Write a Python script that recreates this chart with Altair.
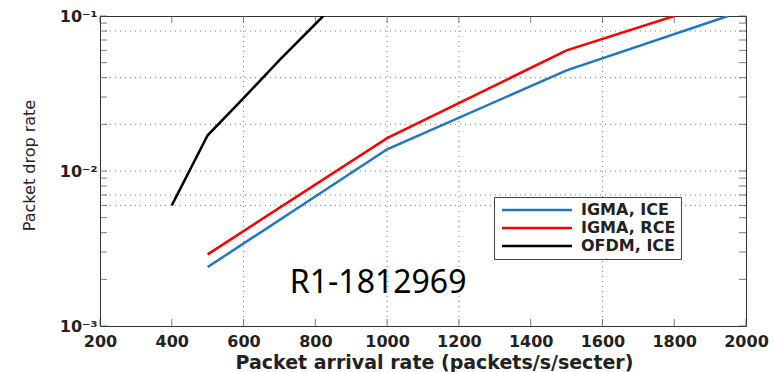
import altair as alt
import pandas as pd

# Series data
blue_x = [500, 1000, 1500, 1950]
blue_y = [0.0024, 0.0138, 0.0446, 0.1]
red_x = [500, 1000, 1500, 1800]
red_y = [0.0029, 0.0163, 0.060, 0.1]
black_x = [400, 500, 600, 700, 822]
black_y = [0.0060, 0.017, 0.0295, 0.052, 0.1]
series_names = ["IGMA, ICE", "IGMA, RCE", "OFDM, ICE"]
series_colors = ["#1f77c8", "#ff0000", "#000000"]

x_ticks = [200, 400, 600, 800, 1000, 1200, 1400, 1600, 1800, 2000]
y_ticks = [0.001, 0.01, 0.1]
y_minor = [0.001, 0.002, 0.003, 0.004, 0.005, 0.006, 0.007, 0.008, 0.009,
           0.01, 0.02, 0.03, 0.04, 0.05, 0.06, 0.07, 0.08, 0.09, 0.1]
grid_x = [600, 1000, 1200, 1600]
grid_y = [0.08, 0.04, 0.02, 0.01, 0.007, 0.006]

note_text = ["R1-1812969"]
note_x = [975]
note_y = [0.00163]

rows = []
for name, xs, ys in zip(series_names, [blue_x, red_x, black_x], [blue_y, red_y, black_y]):
    for i, (a, b) in enumerate(zip(xs, ys)):
        rows.append({"series": name, "x": a, "y": b, "order": i})
df = pd.DataFrame(rows)

FONT = "DejaVu Sans"

xscale = alt.Scale(domain=[x_ticks[0], x_ticks[-1]], nice=False, zero=False)
yscale = alt.Scale(type="log", domain=[y_ticks[0], y_ticks[-1]], nice=False)

xaxis = alt.Axis(values=x_ticks, format="d", labelOverlap=False, labelFlush=False,
                 grid=False, ticks=False, domain=False, labelFont=FONT, labelFontSize=16,
                 labelFontWeight="bold", labelColor="#222", labelPadding=7,
                 title="Packet arrival rate (packets/s/secter)", titleFont=FONT,
                 titleFontSize=19, titleFontWeight="bold", titleColor="#222",
                 titleBaseline="alphabetic", titleY=42, titleX=334, titleAlign="center")
yaxis = alt.Axis(values=y_ticks, grid=False, ticks=False, domain=False, labelFlush=False,
                 labelFont=FONT, labelFontSize=16, labelFontWeight="bold",
                 labelColor="#222", labelPadding=3,
                 labelExpr="datum.value == 0.1 ? '10⁻¹' : (datum.value == 0.01 ? '10⁻²' : '10⁻³')",
                 title="Packet drop rate", titleFont=FONT, titleFontSize=16,
                 titleFontWeight="normal", titleColor="#222", titleAngle=270,
                 titleBaseline="alphabetic", titleAlign="center", titleX=-66, titleY=149)

X = lambda f: alt.X(f, scale=xscale, axis=xaxis)
Y = lambda f: alt.Y(f, scale=yscale, axis=yaxis)

gx = alt.Chart(pd.DataFrame({"gx": grid_x})).mark_rule(
    color="#777", strokeDash=[1, 4], strokeWidth=1
).encode(x=X("gx:Q"))

gy = alt.Chart(pd.DataFrame({"gy": grid_y})).mark_rule(
    color="#777", strokeDash=[1, 4], strokeWidth=1
).encode(y=Y("gy:Q"))

# Matlab-style inward ticks on all four sides
xt = pd.DataFrame({"tx": x_ticks, "bot": y_ticks[0], "top": y_ticks[-1]})
yt = pd.DataFrame({"ty": y_minor, "left": x_ticks[0], "right": x_ticks[-1]})
tick_style = dict(color="#444", thickness=1, size=7)
tb = alt.Chart(xt).mark_tick(orient="vertical", yOffset=-3.5, **tick_style).encode(x=X("tx:Q"), y=Y("bot:Q"))
tt = alt.Chart(xt).mark_tick(orient="vertical", yOffset=3.5, **tick_style).encode(x=X("tx:Q"), y=Y("top:Q"))
tl = alt.Chart(yt).mark_tick(orient="horizontal", xOffset=3.5, **tick_style).encode(x=X("left:Q"), y=Y("ty:Q"))
tr = alt.Chart(yt).mark_tick(orient="horizontal", xOffset=-3.5, **tick_style).encode(x=X("right:Q"), y=Y("ty:Q"))

lines = alt.Chart(df).mark_line(strokeWidth=2.5, clip=True).encode(
    x=X("x:Q"),
    y=Y("y:Q"),
    color=alt.Color("series:N",
                    scale=alt.Scale(domain=series_names, range=series_colors),
                    legend=alt.Legend(title=None, orient="none", legendX=394, legendY=181,
                                      symbolType="M-1,0H13", symbolSize=100,
                                      symbolStrokeWidth=2.5, labelFont=FONT,
                                      labelFontSize=16, labelFontWeight="bold",
                                      labelColor="#222",
                                      labelOffset=66, padding=5, rowPadding=2,
                                      strokeColor="#444", fillColor="white")),
    order="order:Q",
)

note = alt.Chart(pd.DataFrame({"t": note_text, "x": note_x, "y": note_y})).mark_text(
    font="Noto Sans", fontSize=32, align="center", baseline="alphabetic", color="black"
).encode(
    x=X("x:Q"),
    y=Y("y:Q"),
    text="t:N",
)

chart = alt.layer(gx, gy, tb, tt, tl, tr, lines, note).properties(
    width=646, height=310,
    padding={"left": 100, "top": 16, "right": 28, "bottom": 46},
    autosize=alt.AutoSizeParams(type="none"),
    background="white",
).configure_view(stroke="#333", strokeWidth=1)

chart.save("out.html", embed_options={"renderer": "svg", "actions": False})
